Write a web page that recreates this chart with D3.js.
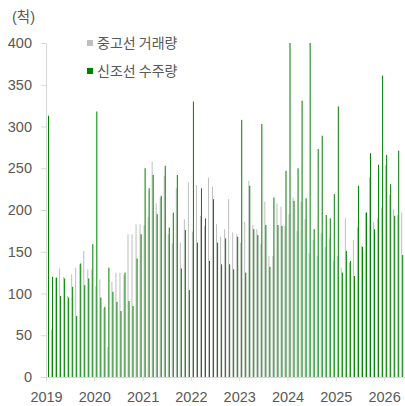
<!DOCTYPE html>
<html><head><meta charset="utf-8">
<script src="https://cdn.jsdelivr.net/npm/d3@7"></script>
<style>
body{margin:0;background:#fff}
svg{display:block}
text{font-family:"Liberation Sans",Arial,"Noto Sans CJK KR",sans-serif;fill:#595959}
</style>
</head><body>
<svg id="chart" width="405" height="406"></svg>
<script>
const startYear = 2019;
const yearTicks = [2019, 2020, 2021, 2022, 2023, 2024, 2025, 2026];
const yTicks = [0, 50, 100, 150, 200, 250, 300, 350, 400];
const unitLabel = "(척)";
const seriesNames = ["중고선 거래량", "신조선 수주량"];
const seriesColors = ["#bfbfbf", "#008000"];

// monthly, Jan 2019 .. Jun 2026
const usedShips = [
  null, 57, 119, 130, 120, 97, 123, 131, 135, 151, 129, 129,
  109, 117, 82, 36, 114, 125, 125, 122, 171, 171, 183, 183,
  182, 192, 258, 208, 215, 241, 171, 160, 226, 161, 189, 233,
  174, 230, 193, 181, 239, 228, 183, 168, 177, 213, 173, 171,
  161, 186, 235, 182, 177, 159, 210, 145, 145, 208, 204, 181,
  195, 215, 175, 210, 189, 148, 164, 145, 172, 156, 166, 139,
  145, 131, 190, 137, 164, 179, 157, 197, 239, 185, 190, 203,
  254, 218, 201, 194, 197, 45
];
const newOrders = [
  313, 120, 119, 97, 118, 95, 108, 73, 136, 110, 118, 159,
  318, 95, 84, 131, 102, 90, 79, 125, 91, 85, 142, 171,
  250, 226, 242, 195, 217, 253, 179, 197, 242, 130, 176, 104,
  330, 161, 226, 190, 139, 213, 161, 135, 166, 135, 129, 168,
  308, 125, 229, 177, 170, 303, 182, 132, 215, 182, 181, 247,
  400, 211, 250, 331, 214, 400, 177, 273, 289, 194, 190, 219,
  324, 125, 151, 139, 121, 229, 156, 197, 268, 177, 254, 361,
  266, 231, 193, 271, 146, null
];

const svg = d3.select("#chart");
const mLeft = 46, mBottom = 377, mTop = 43;
const yearWidth = 48.3;
const n = usedShips.length;
const mRight = mLeft + n * yearWidth / 12;

const x = d3.scaleBand().domain(d3.range(n)).range([mLeft, mRight]).paddingInner(0.5).paddingOuter(0.25);
const xSub = d3.scaleBand().domain([0, 1]).range([0, x.bandwidth()]);
const xYear = d3.scaleLinear().domain([startYear, startYear + n / 12]).range([mLeft, mRight]);
const y = d3.scaleLinear().domain([0, 400]).range([mBottom, mTop]).clamp(true);

const series = [usedShips, newOrders];
series.forEach((vals, s) => {
  svg.append("g").selectAll("rect")
    .data(vals.map((v, i) => ({v, i})).filter(d => d.v != null))
    .join("rect")
    .attr("x", d => x(d.i) + xSub(s))
    .attr("width", xSub.bandwidth())
    .attr("y", d => y(d.v))
    .attr("height", d => y(0) - y(d.v))
    .attr("fill", seriesColors[s]);
});

// y axis
const yAxis = svg.append("g").attr("transform", `translate(${mLeft},0)`)
  .call(d3.axisLeft(y).tickValues(yTicks).tickSize(5).tickSizeOuter(0).tickPadding(9));
yAxis.selectAll("path,line").attr("stroke", "#d9d9d9");
yAxis.selectAll("text").style("font-size", "14.5px").attr("fill", "#595959");

// x axis
const xAxis = svg.append("g").attr("transform", `translate(0,${mBottom})`)
  .call(d3.axisBottom(xYear).tickValues(yearTicks).tickFormat(d3.format("d")).tickSize(4).tickSizeOuter(0).tickPadding(11));
xAxis.selectAll("path,line").attr("stroke", "#d9d9d9");
xAxis.selectAll("text").style("font-size", "14.5px").attr("fill", "#595959");

// unit
svg.append("text").attr("x", 12).attr("y", 17).attr("dy", "0.35em")
  .style("font-size", "14.5px").text(unitLabel);

// legend
seriesNames.forEach((name, s) => {
  const ly = 43 + s * 28;
  svg.append("rect").attr("x", 87).attr("y", ly - 3).attr("width", 6).attr("height", 6).attr("fill", seriesColors[s]);
  svg.append("text").attr("x", 97).attr("y", ly).attr("dy", "0.35em")
    .style("font-size", "14px").style("font-family", "'Noto Sans CJK KR', sans-serif").text(name);
});
</script>
</body></html>
